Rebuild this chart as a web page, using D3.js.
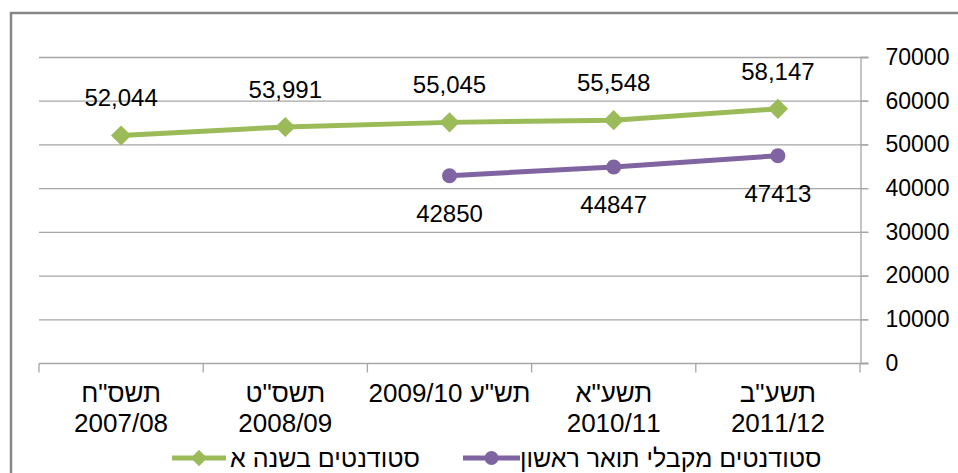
<!DOCTYPE html>
<html>
<head>
<meta charset="utf-8">
<script src="https://cdn.jsdelivr.net/npm/d3@7"></script>
<style>
  body { margin: 0; background: #fff; }
  text { font-family: "Liberation Sans", Arial, sans-serif; fill: #000; }
  .num { font-family: "Liberation Sans", Arial, sans-serif; }
</style>
</head>
<body>
<div id="chart"></div>
<script>
    // categories (one entry per year, lines of the tick label)
    var catLines = [
      ['תשס"ח', '2007/08'],
      ['תשס"ט', '2008/09'],
      ['תש"ע 2009/10'],
      ['תשע"א', '2010/11'],
      ['תשע"ב', '2011/12']
    ];
    var firstYear = [52044, 53991, 55045, 55548, 58147];
    var graduates = [null, null, 42850, 44847, 47413];
    var yTicks = [0, 10000, 20000, 30000, 40000, 50000, 60000, 70000];
    var seriesNames = ['סטודנטים בשנה א', 'סטודנטים מקבלי תואר ראשון'];

    var width = 958,
    height = 473;

    var green = '#9bbb59', purple = '#8064a2', grid = '#a6a6a6';

    var svg = d3.select('#chart').append('svg')
      .attr('width', width)
      .attr('height', height);

    // outer chart frame
    svg.append('rect')
      .attr('x', 11).attr('y', 13)
      .attr('width', 960).attr('height', 480)
      .attr('fill', 'none')
      .attr('stroke', '#868686')
      .attr('stroke-width', 2.5);

    var x = d3.scaleBand()
      .domain(d3.range(catLines.length))
      .range([39, 860])
      .padding(0);

    var y = d3.scaleLinear()
      .domain([0, 70000])
      .range([363, 57]);

    // horizontal gridlines
    svg.append('g')
      .selectAll('line')
      .data(yTicks)
      .enter().append('line')
      .attr('x1', 39).attr('x2', 868)
      .attr('y1', function(d) { return y(d) + 0.5; })
      .attr('y2', function(d) { return y(d) + 0.5; })
      .attr('stroke', grid)
      .attr('stroke-width', 1.3);

    // right value axis
    var yAxis = svg.append('g')
      .attr('transform', 'translate(860.5,0)')
      .call(d3.axisRight(y).tickValues(yTicks).tickSize(8).tickPadding(17).tickFormat(d3.format('d')));
    yAxis.select('.domain').attr('stroke', grid).attr('stroke-width', 1.3);
    yAxis.selectAll('.tick line').attr('stroke', grid).attr('stroke-width', 1.3);
    yAxis.selectAll('.tick text')
      .attr('class', 'num')
      .style('font-size', '23px')
      .attr('fill', '#000');

    // category axis
    var xAxis = svg.append('g')
      .attr('transform', 'translate(0,363.5)');
    xAxis.selectAll('line')
      .data(d3.range(catLines.length + 1))
      .enter().append('line')
      .attr('x1', function(d) { return 39 + d * x.bandwidth(); })
      .attr('x2', function(d) { return 39 + d * x.bandwidth(); })
      .attr('y1', 0).attr('y2', 9)
      .attr('stroke', grid).attr('stroke-width', 1.3);

    var lab = xAxis.selectAll('text.cat')
      .data(catLines)
      .enter().append('text')
      .attr('class', 'cat')
      .attr('direction', 'rtl')
      .attr('text-anchor', 'middle')
      .style('font-size', '26px')
      .attr('x', function(d, i) { return x(i) + x.bandwidth() / 2; })
      .attr('y', 38);
    lab.selectAll('tspan')
      .data(function(d) { return d; })
      .enter().append('tspan')
      .attr('x', function() { return d3.select(this.parentNode).attr('x'); })
      .attr('dy', function(d, i) { return i === 0 ? 0 : 30; })
      .text(function(d) { return d; });

    var line = d3.line()
      .defined(function(d) { return d != null; })
      .x(function(d, i) { return x(i) + x.bandwidth() / 2; })
      .y(function(d) { return y(d); });

    // first-year students
    svg.append('path')
      .datum(firstYear)
      .attr('d', line)
      .attr('fill', 'none')
      .attr('stroke', green)
      .attr('stroke-width', 5);

    svg.append('g').selectAll('path')
      .data(firstYear)
      .enter().append('path')
      .attr('d', d3.symbol().type(d3.symbolDiamond2).size(260))
      .attr('transform', function(d, i) { return 'translate(' + (x(i) + x.bandwidth() / 2) + ',' + y(d) + ')'; })
      .attr('fill', green);

    svg.append('g').selectAll('text')
      .data(firstYear)
      .enter().append('text')
      .attr('class', 'num')
      .attr('text-anchor', 'middle')
      .style('font-size', '24px')
      .attr('x', function(d, i) { return x(i) + x.bandwidth() / 2; })
      .attr('y', function(d) { return y(d) - 29; })
      .text(function(d) { return d3.format(',')(d); });

    // graduates
    svg.append('path')
      .datum(graduates)
      .attr('d', line)
      .attr('fill', 'none')
      .attr('stroke', purple)
      .attr('stroke-width', 5);

    var gIdx = d3.range(graduates.length).filter(function(i) { return graduates[i] != null; });

    svg.append('g').selectAll('circle')
      .data(gIdx)
      .enter().append('circle')
      .attr('cx', function(i) { return x(i) + x.bandwidth() / 2; })
      .attr('cy', function(i) { return y(graduates[i]); })
      .attr('r', 7.5)
      .attr('fill', purple);

    svg.append('g').selectAll('text')
      .data(gIdx)
      .enter().append('text')
      .attr('class', 'num')
      .attr('text-anchor', 'middle')
      .style('font-size', '24px')
      .attr('x', function(i) { return x(i) + x.bandwidth() / 2; })
      .attr('y', function(i) { return y(graduates[i]) + 46; })
      .text(function(i) { return graduates[i]; });

    // legend
    var legendPos = [{x0: 172, x1: 226, tx: 230, color: green},
                     {x0: 463, x1: 520, tx: 520, color: purple}];
    var lg = svg.append('g').selectAll('g')
      .data(seriesNames)
      .enter().append('g');
    lg.append('line')
      .attr('x1', function(d, i) { return legendPos[i].x0; })
      .attr('x2', function(d, i) { return legendPos[i].x1; })
      .attr('y1', 458).attr('y2', 458)
      .attr('stroke', function(d, i) { return legendPos[i].color; })
      .attr('stroke-width', 5);
    lg.append('path')
      .attr('d', function(d, i) {
        return i === 0 ? d3.symbol().type(d3.symbolDiamond2).size(170)() : d3.symbol().type(d3.symbolCircle).size(150)();
      })
      .attr('transform', function(d, i) {
        var cx = (legendPos[i].x0 + legendPos[i].x1) / 2;
        return 'translate(' + cx + ',458)';
      })
      .attr('fill', function(d, i) { return legendPos[i].color; });
    lg.append('text')
      .attr('x', function(d, i) { return legendPos[i].tx; })
      .attr('y', 467)
      .attr('text-anchor', 'start')
      .style('font-size', '25px')
      .text(function(d) { return d; });
</script>
</body>
</html>
